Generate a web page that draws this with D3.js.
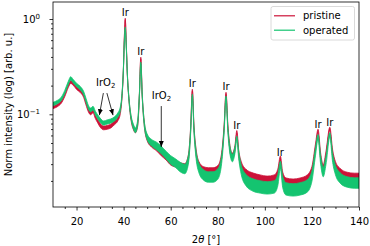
<!DOCTYPE html>
<html>
<head>
<meta charset="utf-8">
<script src="https://d3js.org/d3.v7.min.js"></script>
<style>
body { margin: 0; background: #fff; }
svg text { font-family: "DejaVu Sans", sans-serif; font-size: 10px; fill: #000; }
</style>
</head>
<body>
<div></div>
<script>
// 2θ grid [°]
const twoTheta = [10, 12, 13.5, 15, 16.5, 17.5, 18.5, 20, 21.5, 23, 24, 25, 26, 27, 28, 29, 30, 31.5, 33, 34.5,
    36, 37.5, 38.5, 39.3, 39.9, 40.3, 40.7, 41.1, 41.6, 42.3, 43.2, 44.2, 45, 46, 46.7, 47.3, 47.9, 48.7, 50, 52,
    54, 56, 58, 60, 62, 64, 66, 67.5, 68.5, 69.2, 69.9, 70.8, 72, 74, 76, 78, 80, 81.5, 82.7, 83.5,
    84.3, 85.3, 86.2, 87.3, 88.1, 88.9, 90, 92, 95, 98, 101, 104, 105.5, 106.6, 107.6, 109, 112, 115, 118, 120,
    121.5, 122.6, 123.7, 124.8, 126, 127.6, 128.8, 130, 132, 135, 138, 140];
// normalised intensity
const pristine = [.119, .125, .135, .159, .198, .218, .210, .189, .176, .156, .131, .111, .103, .108, .094, .085, .077, .072, .073, .075,
    .081, .089, .103, .152, .292, .632, 1.0, .574, .259, .141, .089, .072, .067, .079, .159, .390, .159, .083, .056, .048,
    .0443, .0393, .0356, .0316, .0301, .0287, .0280, .0348, .072, .180, .072, .0402, .0294, .0260, .0254, .0254, .0267, .0348, .074, .167,
    .074, .0422, .0365, .0443, .0652, .0393, .0294, .0242, .0220, .0210, .0204, .0210, .0242, .0340, .0225, .0195, .0190, .0195, .0210, .0260,
    .0454, .0668, .0365, .0273, .0383, .0701, .0393, .0294, .0248, .0225, .0220, .0220];
const operated = [.128, .135, .145, .171, .213, .238, .224, .203, .189, .167, .141, .119, .111, .116, .103, .094, .087, .081, .083, .085,
    .089, .098, .111, .159, .292, .574, .805, .533, .259, .141, .092, .074, .068, .083, .159, .345, .159, .083, .058, .050,
    .0465, .0422, .0374, .0332, .0308, .0280, .0267, .0332, .068, .159, .068, .0374, .0273, .0231, .0220, .0220, .0236, .0316, .068, .152,
    .068, .0402, .0348, .0422, .0564, .0374, .0260, .0204, .0181, .0173, .0169, .0173, .0204, .0294, .0195, .0165, .0161, .0165, .0177, .0225,
    .0402, .0578, .0332, .0248, .0332, .0606, .0348, .0260, .0215, .0195, .0190, .0190];
// noise band half width, in decades of intensity
const pristineNoise = [.015, .015, .015, .015, .015, .015, .015, .015, .015, .015, .018, .018, .018, .018, .018, .02, .02, .02, .02, .02,
    .02, .02, .02, .012, .008, .008, .008, .008, .008, .012, .018, .02, .02, .02, .012, .008, .012, .02, .025, .028,
    .03, .03, .03, .032, .032, .035, .035, .032, .02, .008, .02, .03, .035, .035, .035, .035, .035, .032, .02, .008,
    .02, .03, .03, .028, .015, .03, .035, .04, .042, .042, .042, .042, .04, .03, .04, .042, .042, .042, .042, .038,
    .03, .018, .032, .035, .032, .018, .032, .035, .038, .04, .04, .04];
const operatedNoise = [.018, .018, .018, .018, .018, .018, .018, .018, .018, .018, .02, .02, .02, .02, .02, .022, .022, .022, .022, .022,
    .022, .022, .022, .015, .01, .01, .01, .01, .01, .015, .02, .025, .025, .025, .015, .01, .015, .025, .03, .035,
    .04, .04, .04, .045, .045, .05, .05, .045, .025, .01, .025, .04, .05, .055, .055, .055, .055, .045, .025, .01,
    .025, .04, .04, .035, .02, .04, .05, .06, .065, .065, .065, .065, .06, .04, .06, .065, .065, .065, .065, .055,
    .04, .025, .045, .05, .045, .025, .045, .05, .055, .055, .055, .055];

const seriesNames = ["pristine", "operated"];
const seriesColors = ["#cc1238", "#14c470"];

const irPeaks = [40.7, 47.3, 69.2, 83.5, 88.1, 106.6, 122.6, 127.6];
// [2θ, intensity] of the IrO2 labels, and arrows [from 2θ, from I, to 2θ, to I]
const iro2Labels = [[32.4, 0.215], [56.1, 0.158]];
const iro2Arrows = [[31.4, 0.167, 29.7, 0.098], [32.9, 0.167, 35.5, 0.098], [56.0, 0.122, 56.0, 0.0454]];

const xTicks = [20, 40, 60, 80, 100, 120, 140];
const yTicks = [1, 0.1];
const yTickLabels = [["10", "0"], ["10", "\u22121"]];

const Width = 370, Height = 246;
const PLeft = 53, PRight = 359, PTop = 2, PBottom = 207;

const svg = d3.select(document.body).select("div")
    .append("svg").attr("width", Width).attr("height", Height);

const xScale = d3.scaleLinear().domain([10, 140]).range([PLeft, PRight]);
const yScale = d3.scaleLog().domain([0.01065, 1.508]).range([PBottom, PTop]);

svg.append("clipPath").attr("id", "plotClip")
    .append("rect").attr("x", PLeft).attr("y", PTop)
    .attr("width", PRight - PLeft).attr("height", PBottom - PTop);

const defs = svg.append("defs");
defs.append("marker").attr("id", "arrowHead")
    .attr("markerUnits", "userSpaceOnUse")
    .attr("markerWidth", 7).attr("markerHeight", 6)
    .attr("refX", 6).attr("refY", 2.5).attr("orient", "auto")
    .append("path").attr("d", "M0,0 L6,2.5 L0,5 Z").attr("fill", "#000");

// curves drawn as noise bands
const allSeries = [
    {name: seriesNames[0], values: pristine, noise: pristineNoise, color: seriesColors[0]},
    {name: seriesNames[1], values: operated, noise: operatedNoise, color: seriesColors[1]}
];
const band = d3.area()
    .x(d => xScale(d.t))
    .y0(d => yScale(d.v / Math.pow(10, d.n)))
    .y1(d => yScale(d.v * Math.pow(10, d.n)))
    .curve(d3.curveMonotoneX);

const GCurves = svg.append("g").attr("clip-path", "url(#plotClip)");
allSeries.forEach(s => {
    const pts = twoTheta.map((t, i) => ({t: t, v: s.values[i], n: s.noise[i]}));
    GCurves.append("path").datum(pts)
        .attr("d", band)
        .attr("fill", s.color)
        .attr("stroke", s.color)
        .attr("stroke-width", 0.8)
        .attr("stroke-linejoin", "round");
});

// axes
const GXAxis = svg.append("g").attr("transform", "translate(0," + PBottom + ")");
GXAxis.call(d3.axisBottom(xScale).tickValues(xTicks).tickSize(3.5).tickPadding(7).tickFormat(d3.format("d")));
const xMinor = d3.range(15, 140, 5).filter(v => xTicks.indexOf(v) < 0);
const GXMinor = svg.append("g").attr("transform", "translate(0," + PBottom + ")");
GXMinor.call(d3.axisBottom(xScale).tickValues(xMinor).tickSize(2).tickFormat(""));

const yMinor = [];
[0.01, 0.1, 1].forEach(dec => {
    for (let k = 2; k <= 9; k++) yMinor.push(dec * k);
});
const GYAxis = svg.append("g").attr("transform", "translate(" + PLeft + ",0)");
GYAxis.call(d3.axisLeft(yScale).tickValues(yTicks).tickSize(3.5).tickFormat(""));
const GYMinor = svg.append("g").attr("transform", "translate(" + PLeft + ",0)");
GYMinor.call(d3.axisLeft(yScale).tickValues(yMinor.filter(v => v > 0.01065 && v < 1.508)).tickSize(2).tickFormat(""));

[GXAxis, GXMinor, GYAxis, GYMinor].forEach(g => {
    g.select(".domain").remove();
    g.selectAll("line").attr("stroke", "#000").attr("stroke-width", 0.8);
    g.selectAll("text").attr("font-size", 10).attr("font-family", "DejaVu Sans, sans-serif");
});

const yLab = svg.append("g").selectAll("text").data(yTicks).enter().append("text")
    .attr("x", 40).attr("y", d => yScale(d)).attr("text-anchor", "end");
yLab.append("tspan").attr("dy", "0.36em").text((d, i) => yTickLabels[i][0]);
yLab.append("tspan").attr("dy", "-0.5em").attr("font-size", 7).text((d, i) => yTickLabels[i][1]);

// frame
svg.append("rect").attr("x", PLeft).attr("y", PTop)
    .attr("width", PRight - PLeft).attr("height", PBottom - PTop)
    .attr("fill", "none").attr("stroke", "#000").attr("stroke-width", 0.8);

// axis titles
const xTitle = svg.append("text").attr("x", (PLeft + PRight) / 2).attr("y", 242.5).attr("text-anchor", "middle");
xTitle.append("tspan").text("2");
xTitle.append("tspan").attr("font-style", "italic").text("\u03b8");
xTitle.append("tspan").text(" [\u00b0]");

svg.append("text")
    .attr("transform", "translate(11.5," + ((PTop + PBottom) / 2) + ") rotate(-90)")
    .attr("text-anchor", "middle")
    .text("Norm intensity (log) [arb. u.]");

// Ir peak labels
svg.append("g").selectAll("text").data(irPeaks).enter().append("text")
    .attr("x", d => xScale(d))
    .attr("y", d => yScale(pristine[twoTheta.indexOf(d)]) - 3)
    .attr("text-anchor", "middle")
    .text("Ir");

// IrO2 labels and arrows
const oxLab = svg.append("g").selectAll("text").data(iro2Labels).enter().append("text")
    .attr("x", d => xScale(d[0])).attr("y", d => yScale(d[1]))
    .attr("text-anchor", "middle");
oxLab.append("tspan").attr("dy", "0.36em").text("IrO");
oxLab.append("tspan").attr("dy", "0.25em").attr("font-size", 7).text("2");

svg.append("g").selectAll("line").data(iro2Arrows).enter().append("line")
    .attr("x1", d => xScale(d[0])).attr("y1", d => yScale(d[1]))
    .attr("x2", d => xScale(d[2])).attr("y2", d => yScale(d[3]))
    .attr("stroke", "#000").attr("stroke-width", 0.8)
    .attr("marker-end", "url(#arrowHead)");

// legend
const GLegend = svg.append("g").attr("transform", "translate(271,6.5)");
GLegend.append("rect").attr("width", 83.5).attr("height", 33.5).attr("rx", 2)
    .attr("fill", "#fff").attr("fill-opacity", 0.8)
    .attr("stroke", "#d0d0d0").attr("stroke-width", 0.8);
const legItem = GLegend.selectAll(".leg").data(allSeries).enter().append("g")
    .attr("class", "leg")
    .attr("transform", (d, i) => "translate(0," + (9.3 + i * 14.4) + ")");
legItem.append("line").attr("x1", 3).attr("x2", 24)
    .attr("stroke", d => d.color).attr("stroke-width", 1.2);
legItem.append("text").attr("x", 32).attr("dy", "0.35em").text(d => d.name);
</script>
</body>
</html>
